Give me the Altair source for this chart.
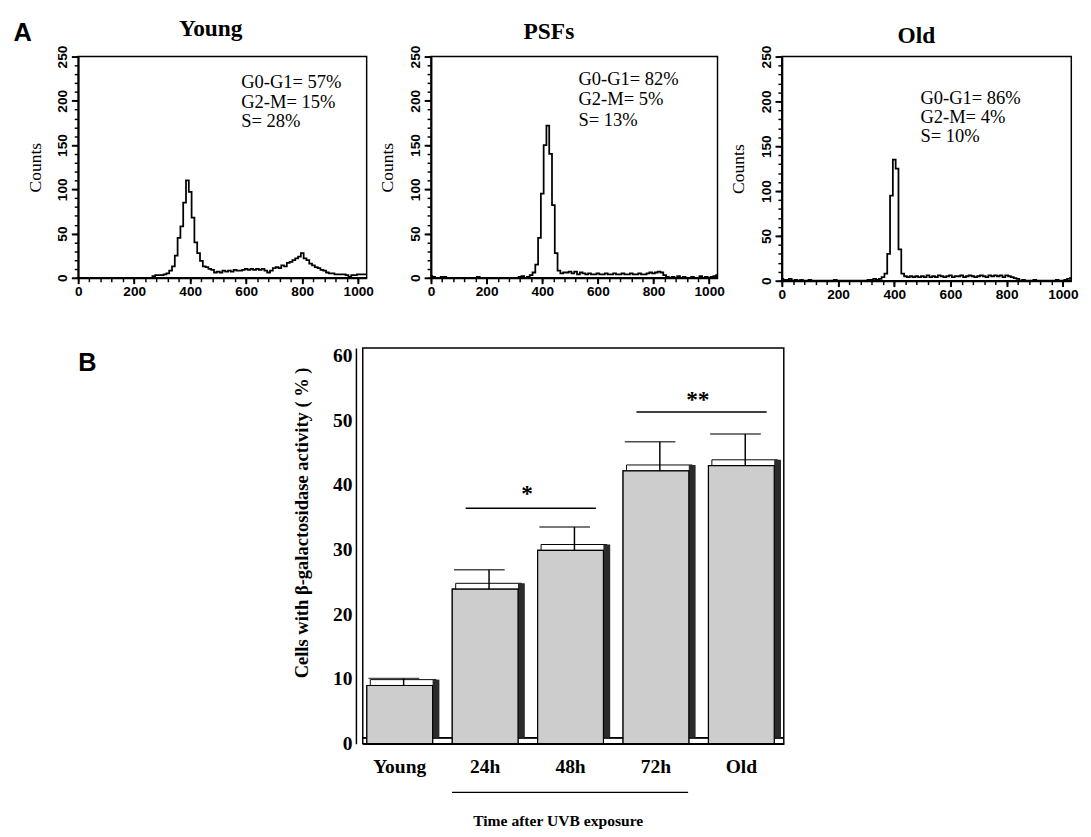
import altair as alt
import pandas as pd

SERIF = "Liberation Serif"
SANS = "Liberation Sans"

# ---------------- Panel A: DNA content histograms ----------------
channels = [i * 10 for i in range(104)]  # 0 .. 1030

young_counts = [
    0, 0, 0, 0, 0, 0, 0, 0, 0, 0,
    0, 0, 0, 0, 0, 0, 0, 0, 0, 0,
    0, 0, 0, 0, 0, 0, 0, 2, 3, 3,
    3, 4, 5, 8, 13, 25, 45, 58, 85, 110,
    97, 68, 40, 28, 19, 13, 12, 10, 9, 6,
    7, 6, 8, 7, 8, 7, 9, 8, 8, 9,
    10, 9, 10, 9, 10, 9, 10, 8, 6, 8,
    11, 12, 11, 14, 13, 17, 18, 20, 22, 24,
    28, 22, 20, 16, 14, 12, 11, 9, 8, 6,
    5, 5, 4, 4, 4, 4, 3, 1, 3, 3,
    4, 4, 4, 4,
]
psf_counts = [
    2, 1, 0, 0, 1, 1, 0, 0, 0, 0,
    0, 0, 0, 0, 0, 0, 0, 1, 0, 0,
    0, 0, 0, 0, 0, 0, 0, 0, 0, 0,
    0, 0, 1, 2, 0, 1, 3, 6, 15, 45,
    95, 150, 172, 140, 82, 28, 8, 5, 6, 6,
    7, 5, 7, 4, 6, 5, 4, 5, 4, 4,
    5, 4, 4, 5, 4, 4, 5, 4, 4, 5,
    4, 4, 5, 4, 4, 5, 4, 4, 5, 6,
    5, 6, 7, 6, 3, 1, 0, 1, 0, 2,
    0, 1, 0, 0, 1, 0, 0, 2, 0, 1,
    0, 1, 2, 3,
]
old_counts = [
    2, 1, 1, 2, 0, 1, 0, 1, 0, 0,
    1, 0, 0, 0, 0, 0, 0, 0, 0, 1,
    0, 0, 0, 0, 0, 0, 0, 0, 0, 0,
    0, 1, 1, 2, 1, 2, 4, 8, 30, 95,
    135, 125, 35, 8, 5, 4, 5, 4, 5, 4,
    5, 4, 6, 4, 5, 4, 6, 5, 4, 5,
    6, 4, 5, 5, 6, 4, 5, 6, 5, 4,
    5, 6, 5, 4, 6, 5, 6, 5, 6, 4,
    6, 5, 4, 3, 2, 0, 1, 0, 0, 0,
    1, 0, 0, 0, 0, 0, 0, 0, 1, 0,
    0, 1, 2, 3,
]

x_major = [0, 200, 400, 600, 800, 1000]
x_minor = [i * 40 for i in range(26)]
y_major = [0, 50, 100, 150, 200, 250]
y_minor = [i * 10 for i in range(26)]

young_text = ["G0-G1= 57%", "G2-M= 15%", "S= 28%"]
psf_text = ["G0-G1= 82%", "G2-M= 5%", "S= 13%"]
old_text = ["G0-G1= 86%", "G2-M= 4%", "S= 10%"]


def text_layer(label, x_px, y_px, font, size, weight="bold"):
    return alt.Chart(pd.DataFrame({"t": [label]})).mark_text(
        font=font, fontWeight=weight, fontSize=size, align="center",
        baseline="middle", color="black"
    ).encode(text="t:N", x=alt.value(x_px), y=alt.value(y_px))


def hist_panel(counts, title, title_x, title_y, ann_x, ann_y, ann_text, w, h, panel_letter=None):
    df = pd.DataFrame({"x": channels, "c": counts})
    xscale = alt.Scale(domain=[0, 1030], nice=False, zero=False)
    yscale = alt.Scale(domain=[0, 250], nice=False)
    line = alt.Chart(df).mark_line(interpolate="step", color="black", strokeWidth=1.8).encode(
        x=alt.X("x:Q", scale=xscale, axis=alt.Axis(
            values=x_major, title=None, orient="bottom", grid=False, format="d",
            labelFont=SANS, labelFontSize=14, labelFontWeight="bold", labelColor="black",
            labelPadding=1, tickSize=6, tickWidth=2, tickColor="black",
            domainWidth=2, domainColor="black", labelFlush=False)),
        y=alt.Y("c:Q", scale=yscale, axis=alt.Axis(
            values=y_major, title="Counts", orient="left", grid=False,
            titleFont=SERIF, titleFontSize=18, titleFontWeight="normal", titleColor="black",
            titlePadding=12,
            labelFont=SANS, labelFontSize=14, labelFontWeight="bold", labelColor="black",
            labelAngle=270, labelAlign="center", labelBaseline="bottom", labelPadding=2,
            tickSize=7, tickWidth=2, tickColor="black",
            domainWidth=2, domainColor="black", labelFlush=False)),
    )
    minor = alt.Chart(df).mark_point(opacity=0).encode(
        x=alt.X("x:Q", scale=xscale, axis=alt.Axis(
            values=x_minor, labels=False, title=None, orient="bottom", grid=False,
            domain=False, tickSize=4, tickWidth=1.5, tickColor="black")),
        y=alt.Y("c:Q", scale=yscale, axis=alt.Axis(
            values=y_minor, labels=False, title=None, orient="left", grid=False,
            domain=False, tickSize=4, tickWidth=1.5, tickColor="black")),
    )
    ann_df = pd.DataFrame({"x": [ann_x] * 3, "y": ann_y, "t": ann_text})
    ann = alt.Chart(ann_df).mark_text(
        align="left", baseline="middle", font=SERIF, fontSize=19, color="black"
    ).encode(
        x=alt.X("x:Q", axis=None),
        y=alt.Y("y:Q", axis=None),
        text="t:N",
    )
    layers = [line, minor, ann, text_layer(title, title_x, title_y, SERIF, 24)]
    if panel_letter:
        layers.append(text_layer(panel_letter, -57, -24, SANS, 26))
    return alt.layer(*layers).resolve_axis(x="independent", y="independent").properties(
        width=w, height=h)


young = hist_panel(young_counts, "Young", 136, -28, 582, [221, 199, 177], young_text, 296, 227, "A")
psfs = hist_panel(psf_counts, "PSFs", 121, -25, 530, [224, 202, 178], psf_text, 294, 227)
old = hist_panel(old_counts, "Old", 138, -21, 493, [204, 182, 161], old_text, 297, 230)

top_row = alt.hconcat(young, psfs, old, spacing=4)

# ---------------- Panel B: SA-beta-gal bar chart ----------------
groups = ["Young", "24h", "48h", "72h", "Old"]
pct = [9.0, 23.9, 29.9, 42.2, 43.0]
pct_err_top = [10.1, 26.9, 33.5, 46.7, 47.9]
y_ticks = [0, 10, 20, 30, 40, 50, 60]

sig_from = ["24h", "72h"]
sig_to = ["48h", "Old"]
sig_line_y = [36.4, 51.3]
sig_star_y = [38.6, 53.2]
sig_label = ["*", "**"]

bdf = pd.DataFrame({"cat": groups, "v": pct, "e": pct_err_top})
sdf = pd.DataFrame({"a": sig_from, "b": sig_to, "y": sig_line_y, "sy": sig_star_y, "s": sig_label})
bracket_df = pd.DataFrame({"a": ["24h"], "b": ["72h"]})

BW, BH = 432, 406
xs = alt.Scale(domain=groups, paddingInner=0.23, paddingOuter=0.08, align=0.3)
ys = alt.Scale(domain=[0, 61.2], nice=False)

x_main = alt.X("cat:N", sort=groups, scale=xs, axis=alt.Axis(
    title="Time after UVB exposure", labelAngle=0,
    labelFont=SERIF, labelFontSize=20, labelFontWeight="bold", labelColor="black",
    labelPadding=14, ticks=False, domainColor="black", domainWidth=1.5,
    titleFont=SERIF, titleFontSize=16, titleFontWeight="bold", titleColor="black",
    titlePadding=37, titleX=200))
y_main = alt.Y("v:Q", scale=ys, axis=alt.Axis(
    values=y_ticks, title="Cells with β-galactosidase activity ( % )", grid=False,
    labelFont=SERIF, labelFontSize=20, labelFontWeight="bold", labelColor="black",
    labelPadding=4, ticks=False, domainColor="black", domainWidth=1.5, offset=7,
    titleFont=SERIF, titleFontSize=19, titleFontWeight="bold", titleColor="black",
    titlePadding=22, titleY=179))

xc = alt.X("cat:N", sort=groups, scale=xs)

floor_back = alt.Chart(bdf).mark_rule(color="black", strokeWidth=1, yOffset=-6).encode(
    y=alt.datum(0, scale=ys))
top_face = alt.Chart(bdf).mark_bar(
    fill="white", stroke="black", strokeWidth=1, xOffset=3.5, yOffset=-6, y2Offset=0
).encode(x=xc, y=alt.Y("v:Q", scale=ys), y2="v:Q")
side = alt.Chart(bdf).mark_bar(
    color="#2b2b2b", width=7, xOffset=37.2, yOffset=-6, y2Offset=-3
).encode(x=xc, y=alt.Y("v:Q", scale=ys))
bars = alt.Chart(bdf).mark_bar(
    fill="#cdcdcd", stroke="black", strokeWidth=1.2
).encode(x=x_main, y=y_main)
stem = alt.Chart(bdf).mark_rule(color="black", strokeWidth=1.5, xOffset=4).encode(
    x=xc, y=alt.Y("v:Q", scale=ys), y2="e:Q")
cap = alt.Chart(bdf).mark_tick(color="black", size=52, thickness=1.5, xOffset=-6).encode(
    x=xc, y=alt.Y("e:Q", scale=ys))
sig_lines = alt.Chart(sdf).mark_rule(color="black", strokeWidth=1.5, xOffset=-20, x2Offset=26).encode(
    x=alt.X("a:N", sort=groups, scale=xs, bandPosition=0.5),
    x2="b:N",
    y=alt.Y("y:Q", scale=ys))
stars = alt.Chart(sdf).mark_text(
    font=SERIF, fontSize=24, fontWeight="bold", color="black", dx=43, baseline="middle"
).encode(
    x=alt.X("a:N", sort=groups, scale=xs, bandPosition=0.5),
    y=alt.Y("sy:Q", scale=ys), text="s:N")
bracket = alt.Chart(bracket_df).mark_rule(color="black", strokeWidth=1.2, xOffset=-34, x2Offset=33).encode(
    x=alt.X("a:N", sort=groups, scale=xs, bandPosition=0.5),
    x2="b:N",
    y=alt.value(BH + 50))

bar_chart = alt.layer(
    bars, floor_back, top_face, side, bars, stem, cap, sig_lines, stars, bracket
).properties(width=BW, height=BH)

b_label = alt.Chart(pd.DataFrame({"t": ["B"]})).mark_text(
    font=SANS, fontWeight="bold", fontSize=26, align="left", baseline="middle", color="black"
).encode(text="t:N", x=alt.value(0), y=alt.value(16)).properties(
    width=218, height=20, view=alt.ViewBackground(stroke="transparent"))

bottom_row = alt.hconcat(b_label, bar_chart, spacing=0)

chart = alt.vconcat(top_row, bottom_row, spacing=44).properties(
    padding={"left": 4, "top": -2, "right": 4, "bottom": 0},
    background="white",
).configure_view(stroke="black", strokeWidth=1.5)

chart.save("out.html", embed_options={"renderer": "svg", "actions": False})
